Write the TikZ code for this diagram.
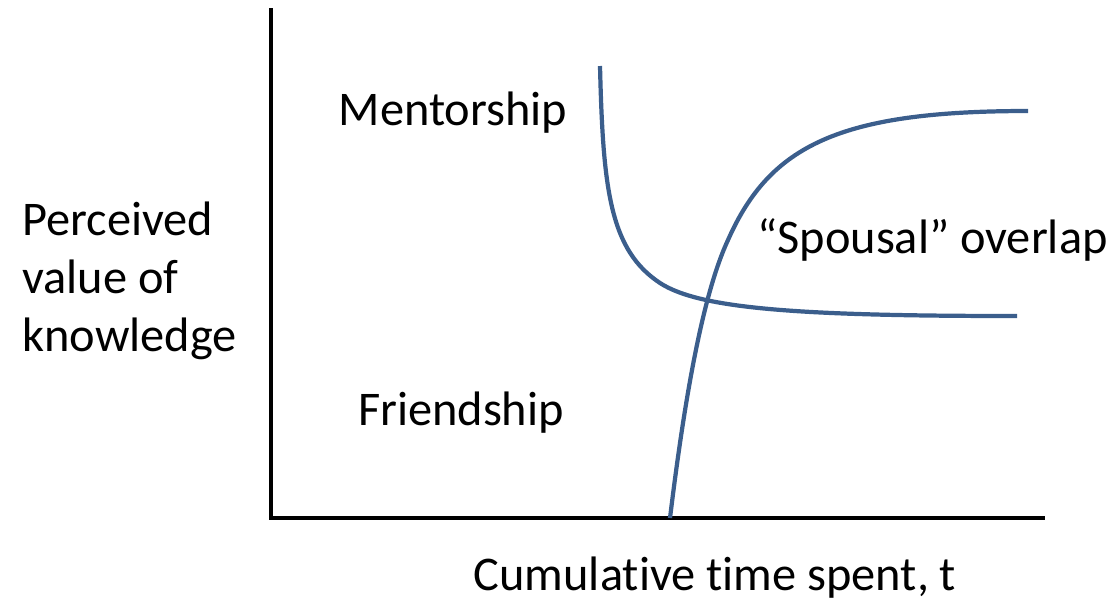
\documentclass[tikz,border=0pt]{standalone}
\usepackage{fontspec}
\setmainfont{Carlito}[Ligatures=NoCommon]
\definecolor{kurve}{HTML}{3B5E8C}
\begin{document}
\begin{tikzpicture}[x=0.025cm, y=-0.025cm, font=\fontsize{34.4}{41}\selectfont]
\useasboundingbox (0,0) rectangle (1109,601);

% Achsen
\coordinate (O) at (271,518);
\coordinate (Y) at (271,8);
\coordinate (X) at (1045,518);
\draw[line width=3.3pt] (Y) -- (271,520);
\draw[line width=3.3pt] (269,518) -- (X);

% Kurven
\draw[kurve, line width=3pt] (600,66) .. controls (603,190) and (610,250) .. (660,283)
  .. controls (700,309) and (800,316) .. (1017,316);
\draw[kurve, line width=3pt] (670,518) .. controls (682,420) and (700,300) .. (728,240)
  .. controls (770,145) and (840,111) .. (1028,111);

% Beschriftungen
\node (M) at (453,113) {Mentorship};
\node (F) at (461,413) {Friendship};
\node[anchor=west, inner sep=0pt] (S) at (757,240) {“Spousal” overlap};
\node[anchor=west, inner sep=0pt, align=left] (P) at (22,281) {Perceived\\value of\\knowledge};
\node (T) at (715,578) {Cumulative time spent, t};

\end{tikzpicture}
\end{document}
